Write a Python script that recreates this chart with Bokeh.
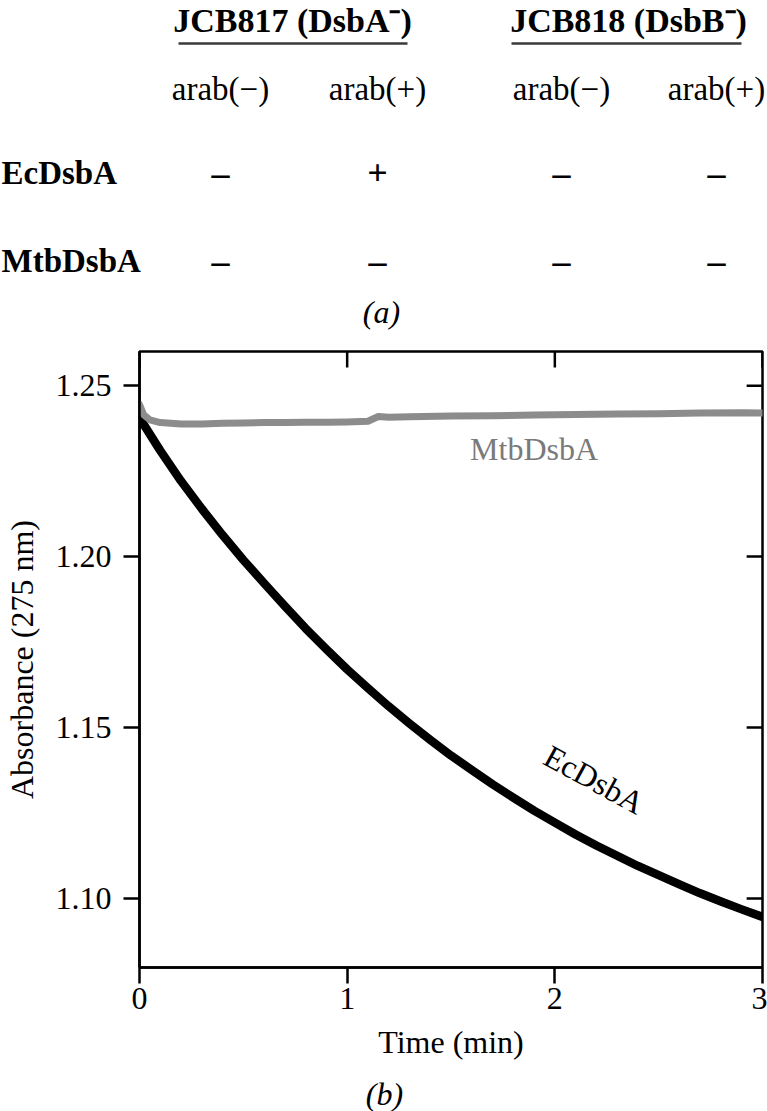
from bokeh.plotting import figure
from bokeh.models import Range1d, FixedTicker, PrintfTickFormatter
from bokeh.embed import file_html
from bokeh.resources import INLINE
from bokeh.core.properties import value

# ---------------- data ----------------
strains = ["JCB817 (DsbA\u207b)", "JCB818 (DsbB\u207b)"]
conditions = ["arab(\u2212)", "arab(+)", "arab(\u2212)", "arab(+)"]
proteins = ["EcDsbA", "MtbDsbA"]
presence = [["\u2013", "+", "\u2013", "\u2013"],
            ["\u2013", "\u2013", "\u2013", "\u2013"]]
panel_a = "(a)"
panel_b = "(b)"

time_ec = [0.0, 0.1, 0.2, 0.3, 0.4, 0.5, 0.6, 0.7, 0.8, 0.9, 1.0,
           1.1, 1.2, 1.3, 1.4, 1.5, 1.6, 1.7, 1.8, 1.9, 2.0,
           2.1, 2.2, 2.3, 2.4, 2.5, 2.6, 2.7, 2.8, 2.9, 3.0]
abs_ec = [1.2406, 1.2310, 1.2221, 1.2140, 1.2063, 1.1990, 1.1922, 1.1855,
          1.1790, 1.1729, 1.1670, 1.1615, 1.1562, 1.1512, 1.1464, 1.1418,
          1.1376, 1.1334, 1.1295, 1.1257, 1.1222, 1.1187, 1.1155, 1.1125,
          1.1095, 1.1068, 1.1041, 1.1015, 1.0991, 1.0968, 1.0946]

time_mtb = [0.00, 0.02, 0.05, 0.10, 0.20, 0.30, 0.40, 0.50, 0.60, 0.70,
            0.80, 0.90, 1.00, 1.10, 1.15, 1.20, 1.30, 1.50, 1.70, 1.90,
            2.10, 2.30, 2.50, 2.70, 2.90, 3.00]
abs_mtb = [1.2445, 1.2415, 1.2400, 1.2392, 1.2388, 1.2388, 1.2390, 1.2391,
           1.2392, 1.2392, 1.2393, 1.2393, 1.2394, 1.2396, 1.2410, 1.2408,
           1.2409, 1.2411, 1.2412, 1.2414, 1.2416, 1.2417, 1.2418, 1.2420,
           1.2421, 1.2420]

x_ticks = [0, 1, 2, 3]
y_ticks = [1.10, 1.15, 1.20, 1.25]
x_title = "Time (min)"
y_title = "Absorbance (275 nm)"

# ---------------- styling / layout ----------------
SERIF = "Liberation Serif"
W = 767
FS = "32px"
XR = (0, 3)
YR = (1.0798, 1.2600)


def blank_figure(h):
    f = figure(width=W, height=h, x_range=Range1d(0, W), y_range=Range1d(h, 0),
               output_backend="svg", toolbar_location=None,
               x_axis_location=None, y_axis_location=None, min_border=0)
    f.grid.visible = False
    f.outline_line_color = None
    return f


def add_text(fig, xs, ys, texts, size, style="normal", align="center", color="black"):
    fig.text(x=xs, y=ys, text=texts, text_font=value(SERIF), text_font_size=size,
             text_font_style=style, text_align=align, text_baseline="middle",
             text_color=color)


# ---------------- panel (a): table ----------------
HA = 335
fa = blank_figure(HA)
col_x = [220, 377, 561, 716]
head_x = [292, 628]
rule_x0 = [178, 511]
rule_x1 = [407, 741]

add_text(fa, head_x, [20, 20], strains, "34px", "bold")
fa.segment(x0=rule_x0, y0=[43, 43], x1=rule_x1, y1=[43, 43],
           line_width=2.5, line_color="#3a3a3a")
add_text(fa, col_x, [88] * 4, conditions, "33px")
row_y = [172, 260]
add_text(fa, [1, 1], row_y, proteins, "33px", "bold", "left")
for r, row in enumerate(presence):
    add_text(fa, col_x, [row_y[r]] * len(row), row, "36px", "bold")
add_text(fa, [381], [311], [panel_a], FS, "italic")

# ---------------- panel (b): kinetics ----------------
HB = 730
BL, BR, BT, BB = 134, 5, 16, 98
fb = figure(width=W, height=HB, x_range=Range1d(*XR), y_range=Range1d(*YR),
            output_backend="svg", toolbar_location=None,
            min_border_left=BL, min_border_right=BR, min_border_top=BT,
            min_border_bottom=BB)
fb.grid.visible = False
fb.outline_line_color = "black"
fb.outline_line_width = 2.5
fb.background_fill_color = "white"

fb.line(time_ec, abs_ec, line_color="black", line_width=8.5, line_join="round", line_cap="round")
fb.line(time_mtb, abs_mtb, line_color="#8c8c8c", line_width=7, line_join="round", line_cap="round")

fb.text(x=[1.90], y=[1.2315], text=["MtbDsbA"], text_font=value(SERIF),
        text_font_size=FS, text_align="center", text_baseline="middle",
        text_color="#7a7a7a")
fb.text(x=[2.19], y=[1.1348], text=["EcDsbA"], text_font=value(SERIF),
        text_font_size=FS, text_align="center", text_baseline="middle",
        text_color="black", angle=-0.50)

# inner ticks on the right and top edges (tick length 16 px)
FW = W - BL - BR
FH = HB - BT - BB
dx = 16 * (XR[1] - XR[0]) / FW
dy = 16 * (YR[1] - YR[0]) / FH
fb.segment(x0=[XR[1] - dx] * len(y_ticks), y0=y_ticks, x1=[XR[1]] * len(y_ticks), y1=y_ticks,
           line_color="black", line_width=2.5)
fb.segment(x0=x_ticks, y0=[YR[1] - dy] * len(x_ticks), x1=x_ticks, y1=[YR[1]] * len(x_ticks),
           line_color="black", line_width=2.5)


def style_axis(ax, ticks):
    ax.ticker = FixedTicker(ticks=ticks)
    ax.minor_tick_line_color = None
    ax.axis_line_width = 2.5
    ax.axis_line_color = "black"
    ax.major_tick_line_width = 2.5
    ax.major_tick_line_color = "black"
    ax.major_tick_in = 0
    ax.major_tick_out = 16
    ax.major_label_text_font = SERIF
    ax.major_label_text_font_size = FS
    ax.major_label_text_color = "black"
    ax.axis_label_text_font = SERIF
    ax.axis_label_text_font_size = FS
    ax.axis_label_text_font_style = "normal"
    ax.axis_label_text_color = "black"


xb = fb.xaxis[0]
style_axis(xb, x_ticks)
xb.axis_label = x_title
xb.major_label_standoff = 4
xb.axis_label_standoff = 12

yl = fb.yaxis[0]
style_axis(yl, y_ticks)
yl.formatter = PrintfTickFormatter(format="%.2f")
yl.axis_label = y_title
yl.major_label_standoff = 12
yl.axis_label_standoff = 13

# ---------------- panel label (b) ----------------
HC = 1111 - HA - HB
fc = blank_figure(HC)
add_text(fc, [384], [28], [panel_b], FS, "italic")

open("out.html", "w").write(file_html([fa, fb, fc], INLINE))
